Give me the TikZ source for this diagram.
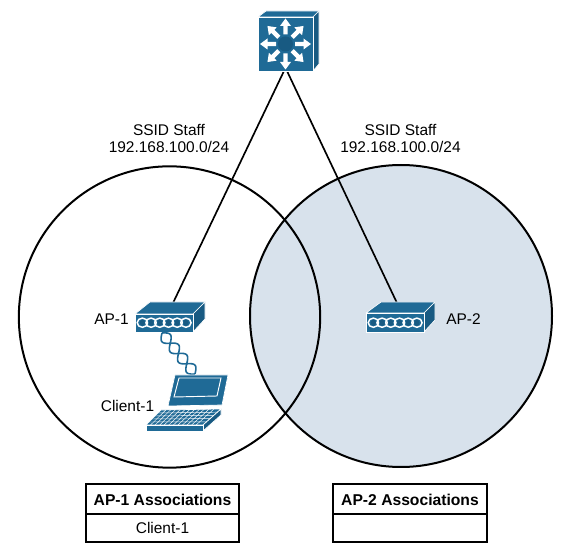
\documentclass[tikz,border=0pt]{standalone}
\usepackage{fontspec}
\setmainfont{Liberation Sans}
\definecolor{cisco}{HTML}{1F6A96}
\definecolor{ciscodark}{HTML}{185A82}
\definecolor{cellfill}{HTML}{D8E2EC}
\tikzset{
  x=0.75pt,y=-0.75pt,
  ring/.style={draw=black,line width=1.5pt},
  link/.style={draw=black,line width=1.25pt},
  lbl/.style={font=\fontsize{11.6}{13}\selectfont,inner sep=0,align=center},
  boldlbl/.style={font=\fontsize{11.75}{13.5}\selectfont\bfseries,inner sep=0},
  skin/.style={fill=cisco,draw=white,line width=0.5pt,line join=round},
  skinside/.style={fill=ciscodark,draw=white,line width=0.5pt,line join=round},
  frontface/.style={fill=cisco,draw=white,line width=0.5pt,inner sep=0,rectangle},
  tablebox/.style={draw=black,line width=1.1pt,fill=white,inner sep=0,rectangle},
}
\newcommand{\portrow}[2]{%
  \foreach \i in {0,...,5}{
    \draw[white,line width=1.1pt] ({#1+4.4+8.7*\i},#2) ellipse (5.2 and 4.6);
  }
  \foreach \i in {0,...,5}{
    \fill[ciscodark] ({#1+4.4+8.7*\i},#2) ellipse (2.6 and 3);
  }}
\begin{document}
\begin{tikzpicture}
\useasboundingbox (0,0) rectangle (561,545);
% coverage circles
\node[ring,fill=cellfill,circle,inner sep=0,minimum size=226.5pt] (cellB) at (401,316) {};
\node[ring,circle,inner sep=0,minimum size=226pt] (cellA) at (169.5,317) {};
% anchors
\coordinate (swlinkA) at (284,71);
\coordinate (swlinkB) at (287,71);
\coordinate (apAtop) at (173,303);
\coordinate (apBtop) at (397,303);
% connectors
\draw[link] (swlinkA) -- (apAtop);
\draw[link] (swlinkB) -- (apBtop);
% switch
\draw[skin] (258,17) -- (266,11) -- (319,11) -- (313,17) -- cycle;
\draw[skinside] (313,17) -- (319,11) -- (319,64) -- (313,71) -- cycle;
\node[frontface,minimum width=41.25pt,minimum height=40.5pt] (switch) at (285.5,44) {};
\fill[ciscodark] (switch.center) circle (7.5);
\foreach \a in {0,45,...,315}{
  \begin{scope}[shift={(switch.center)},rotate=\a]
    \fill[white] (9.5,-2.2) -- (18,-2.2) -- (18,-5.5) -- (25.5,0) -- (18,5.5) -- (18,2.2) -- (9.5,2.2) -- cycle;
  \end{scope}
}
% AP-1
\draw[skin] (135,314) -- (150,302) -- (205,302) -- (193,314) -- cycle;
\draw[skinside] (193,314) -- (205,302) -- (205,319) -- (193,332) -- cycle;
\node[frontface,minimum width=43.5pt,minimum height=13.5pt] (ap1) at (164,323) {};
\portrow{138}{322.7}
% AP-2
\draw[skin] (366,313) -- (381,302) -- (435,302) -- (424,313) -- cycle;
\draw[skinside] (424,313) -- (435,302) -- (435,320) -- (424,332) -- cycle;
\node[frontface,minimum width=43.5pt,minimum height=14.25pt] (ap2) at (395,322.5) {};
\portrow{369}{322.7}
% wireless helix
\draw[cisco,line width=1.2pt,smooth,samples=70,domain=0:1]
  plot ({162+33*\x+4.2*sin(\x*720)},{333+41*\x-3.6*sin(\x*720)});
\draw[cisco,line width=1.2pt,smooth,samples=70,domain=0:1]
  plot ({162+33*\x-4.2*sin(\x*720)},{333+41*\x+3.6*sin(\x*720)});
% laptop
\draw[skin] (175,375) -- (228,375) -- (222,405) -- (168,406) -- cycle;
\draw[white,line width=0.7pt] (179,378) -- (221,378) -- (217,396) -- (174,397) -- cycle;
\draw[skin] (161,410) -- (221,409) -- (203,425) -- (146,425) -- cycle;
\draw[skinside] (203,425) -- (221,409) -- (221,415) -- (203,431) -- cycle;
\draw[skin] (146,425) rectangle (203,431);
\foreach \t in {0.2,0.4,0.6,0.8}{
  \draw[white,line width=0.35pt] ({161-15*\t},{410+15*\t}) -- ({221-18*\t},{409+16*\t});
}
\foreach \t in {0.08,0.16,...,0.95}{
  \draw[white,line width=0.35pt] ({161+60*\t},{410-1*\t}) -- ({146+57*\t},425);
}
% labels
\node[lbl] (ssidA) at (169,138.5) {SSID Staff\\192.168.100.0/24};
\node[lbl] (ssidB) at (400.5,138.5) {SSID Staff\\192.168.100.0/24};
\node[lbl] (lblA) at (111.5,319) {AP-1};
\node[lbl] (lblB) at (463.5,319) {AP-2};
\node[lbl] (lblC) at (127.5,406) {Client-1};
% tables
\node[tablebox,minimum width=114.75pt,minimum height=22.5pt] (tA1) at (162.5,499) {};
\node[tablebox,minimum width=114.75pt,minimum height=21pt] (tA2) at (162.5,528) {};
\node[tablebox,minimum width=115.5pt,minimum height=22.5pt] (tB1) at (410,499) {};
\node[tablebox,minimum width=115.5pt,minimum height=21pt] (tB2) at (410,528) {};
\node[boldlbl,yshift=-1pt] at (tA1.center) {AP-1 Associations};
\node[lbl] at (tA2.center) {Client-1};
\node[boldlbl,yshift=-1pt] at (tB1.center) {AP-2 Associations};
\end{tikzpicture}
\end{document}
